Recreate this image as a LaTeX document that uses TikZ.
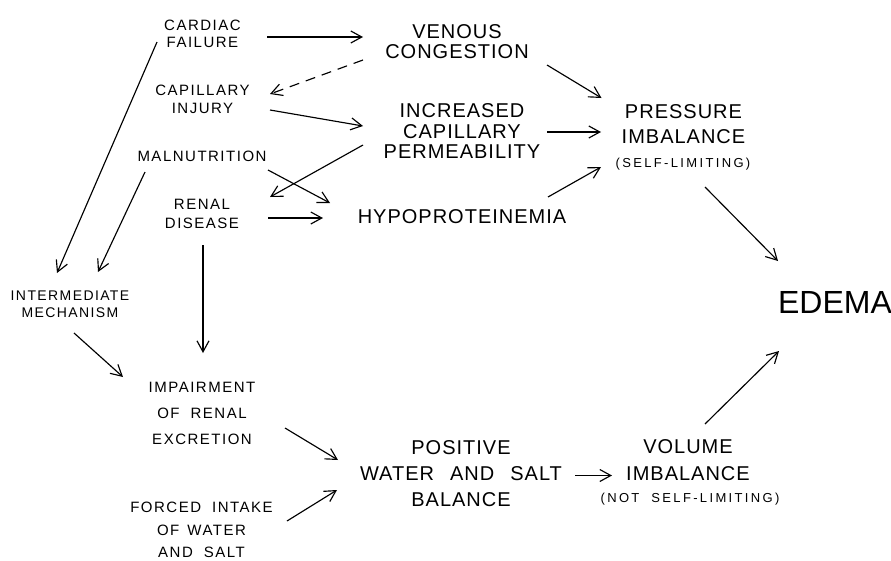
\documentclass[tikz,border=0pt]{standalone}
\usepackage{fontspec}
\setmainfont{Liberation Sans}
\newfontfamily\lblfont[LetterSpace=10]{Liberation Sans}
\newfontfamily\midfont[LetterSpace=5]{Liberation Sans}
\newfontfamily\subfont[LetterSpace=18]{Liberation Sans}
\newfontfamily\bigfont{Liberation Sans}
\usetikzlibrary{arrows.meta,calc}
\begin{document}
\begin{tikzpicture}[x=1pt,y=-1pt,
  every node/.style={inner sep=0pt, outer sep=0pt, align=center},
  small/.style={font=\lblfont\fontsize{15}{#1}\selectfont},
  tiny/.style={font=\lblfont\fontsize{14}{#1}\selectfont},
  mid/.style={font=\midfont\fontsize{20}{#1}\selectfont},
  paren/.style={font=\subfont\fontsize{13}{15}\selectfont},
  big/.style={font=\bigfont\fontsize{32}{36}\selectfont},
  arr/.style={line width=1.15pt, -{Straight Barb[length=11pt,width=12pt]}},
  dasharr/.style={arr, dash pattern=on 10pt off 7pt},
]
\useasboundingbox (0,0) rectangle (891,560);

% left column
\node[small=17] (cf) at (202.5,33.5) {CARDIAC\\FAILURE};
\node[small=18] (ci) at (202.5,99) {CAPILLARY\\INJURY};
\node[small=18] (mal) at (202,156) {MALNUTRITION};
\node[small=19] (rd) at (202,213.5) {RENAL\\DISEASE};
\node[tiny=17] (im) at (70,304) {INTERMEDIATE\\MECHANISM};
\node[small=26] (ire) at (202,413) {IMPAIRMENT\\OF\hspace{11pt}RENAL\\EXCRETION};
\node[small=22.5] (fi) at (201.5,530) {FORCED\hspace{11pt}INTAKE\\OF\hspace{8pt}WATER\\AND\hspace{11pt}SALT};

% middle column
\node[mid=19.5] (vc) at (457,41.5) {VENOUS\\CONGESTION};
\node[mid=20.5] (icp) at (462,131.5) {INCREASED\\CAPILLARY\\PERMEABILITY};
\node[mid=20] (hyp) at (462,216.5) {HYPOPROTEINEMIA};
\node[mid=26] (pos) at (461,473.5) {POSITIVE\\WATER\hspace{16pt}AND\hspace{16pt}SALT\\BALANCE};

% right column
\node[mid=25] (pi) at (683.5,124.5) {PRESSURE\\IMBALANCE};
\node[paren] (pis) at (683,164) {(SELF-LIMITING)};
\node[mid=27] (vol) at (688,460.5) {VOLUME\\IMBALANCE};
\node[paren] (vols) at (690,499) {(NOT\hspace{12pt}SELF-LIMITING)};
\node[big] (ed) at (835,302) {EDEMA};

% connectors
\draw[arr] ($(cf)+(64.5,3.5)$) -- ($(vc)+(-94,-4.5)$);
\draw[dasharr] ($(vc)+(-94,18.5)$) -- ($(ci)+(67.5,-5)$);
\draw[arr] ($(ci)+(67.5,11)$) -- ($(icp)+(-99,-5.5)$);
\draw[arr] ($(icp)+(-99,13.5)$) -- ($(rd)+(68,-16.5)$);
\draw[arr] ($(mal)+(66,14)$) -- ($(hyp)+(-132,-13.5)$);
\draw[arr] ($(rd)+(66,4.5)$) -- ($(hyp)+(-139,1.5)$);
\draw[arr] ($(cf)+(-45.5,8.5)$) -- ($(im)+(-13,-31)$);
\draw[arr] ($(mal)+(-57,16)$) -- ($(im)+(28,-32)$);
\draw[arr] ($(rd)+(1,31.5)$) -- ($(ire)+(1,-60)$);
\draw[arr] ($(im)+(4,29)$) -- ($(ire)+(-79,-36)$);
\draw[arr] ($(ire)+(83,15)$) -- ($(pos)+(-123,-13.5)$);
\draw[arr] ($(fi)+(85.5,-9)$) -- ($(pos)+(-124,16.5)$);
\draw[arr] ($(pos)+(114,2)$) -- ($(vol)+(-76,15)$);
\draw[arr] ($(vc)+(90,23.5)$) -- ($(pi)+(-82,-26.5)$);
\draw[arr] ($(icp)+(85,0.5)$) -- ($(pi)+(-82.5,7.5)$);
\draw[arr] ($(hyp)+(86,-19.5)$) -- ($(pi)+(-82.5,42.5)$);
\draw[arr] ($(pis)+(22,23)$) -- ($(ed)+(-57,-41)$);
\draw[arr] ($(vol)+(17,-36.5)$) -- ($(ed)+(-56,49)$);
\end{tikzpicture}
\end{document}
